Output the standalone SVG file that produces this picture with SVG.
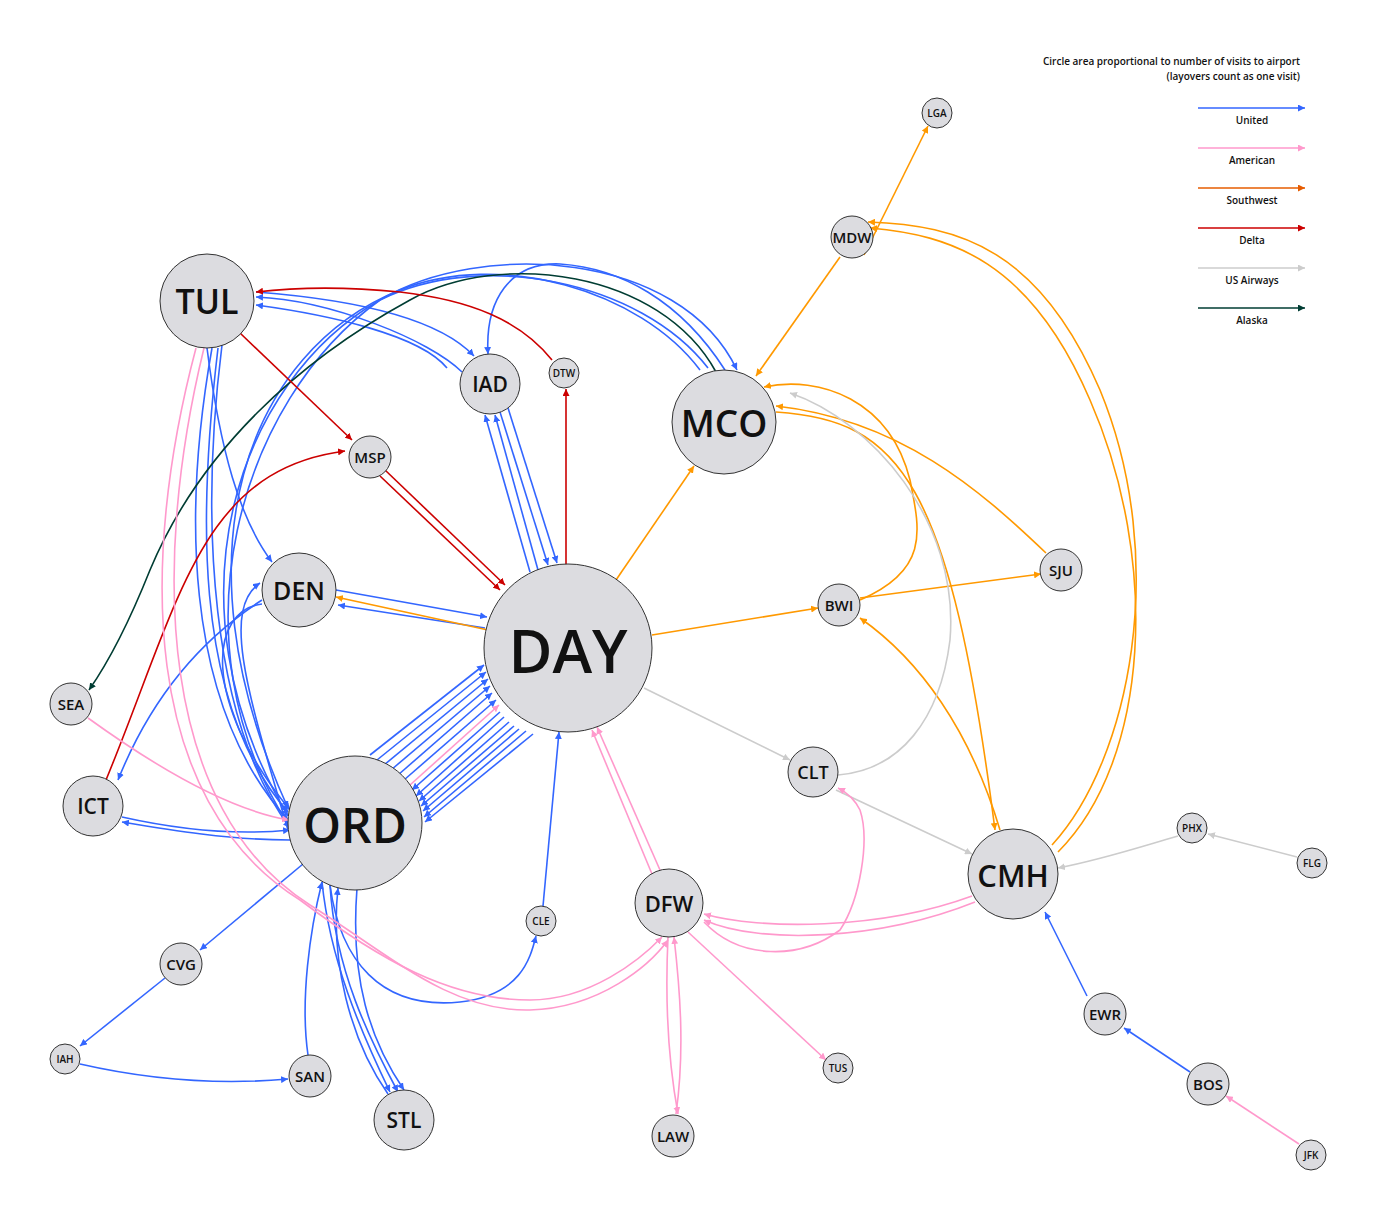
<svg xmlns="http://www.w3.org/2000/svg" width="1378" height="1221" viewBox="0 0 1378 1221">
<style>
.n{fill:#dcdce0;stroke:#333;stroke-width:1}
text{font-family:"Open Sans","Noto Sans",sans-serif;font-weight:600;fill:#111;text-anchor:middle;dominant-baseline:central}
.e{fill:none;stroke-width:1.6}
.u{stroke:#3366ff;marker-end:url(#mu)}
.a{stroke:#ff99cc;marker-end:url(#ma)}
.s{stroke:#ff9900;marker-end:url(#ms)}
.d{stroke:#cc0000;marker-end:url(#md)}
.g{stroke:#cccccc;marker-end:url(#mg)}
.k{stroke:#003d33;marker-end:url(#mk)}
.lg{font-size:10px;font-weight:600}
</style>
<defs>
<marker id="mu" viewBox="0 0 10 10" refX="10" refY="5" markerWidth="7" markerHeight="7" orient="auto" markerUnits="userSpaceOnUse"><path d="M0,0L10,5L0,10z" fill="#3366ff"/></marker>
<marker id="ma" viewBox="0 0 10 10" refX="10" refY="5" markerWidth="7" markerHeight="7" orient="auto" markerUnits="userSpaceOnUse"><path d="M0,0L10,5L0,10z" fill="#ff99cc"/></marker>
<marker id="ms" viewBox="0 0 10 10" refX="10" refY="5" markerWidth="7" markerHeight="7" orient="auto" markerUnits="userSpaceOnUse"><path d="M0,0L10,5L0,10z" fill="#ff9900"/></marker>
<marker id="ms2" viewBox="0 0 10 10" refX="10" refY="5" markerWidth="7" markerHeight="7" orient="auto" markerUnits="userSpaceOnUse"><path d="M0,0L10,5L0,10z" fill="#e65c00"/></marker>
<marker id="md" viewBox="0 0 10 10" refX="10" refY="5" markerWidth="7" markerHeight="7" orient="auto" markerUnits="userSpaceOnUse"><path d="M0,0L10,5L0,10z" fill="#cc0000"/></marker>
<marker id="mg" viewBox="0 0 10 10" refX="10" refY="5" markerWidth="7" markerHeight="7" orient="auto" markerUnits="userSpaceOnUse"><path d="M0,0L10,5L0,10z" fill="#cccccc"/></marker>
<marker id="mk" viewBox="0 0 10 10" refX="10" refY="5" markerWidth="7" markerHeight="7" orient="auto" markerUnits="userSpaceOnUse"><path d="M0,0L10,5L0,10z" fill="#003d33"/></marker>
</defs>
<rect width="1378" height="1221" fill="#fff"/>
<g id="legend">
<text x="1300" y="61" class="lg" style="text-anchor:end">Circle area proportional to number of visits to airport</text>
<text x="1300" y="76" class="lg" style="text-anchor:end">(layovers count as one visit)</text>
<path class="e u" d="M1198,108H1305"/><text x="1252" y="120" class="lg">United</text>
<path class="e a" d="M1198,148H1305"/><text x="1252" y="160" class="lg">American</text>
<path class="e" stroke="#e65c00" marker-end="url(#ms2)" d="M1198,188H1305"/><text x="1252" y="200" class="lg">Southwest</text>
<path class="e d" d="M1198,228H1305"/><text x="1252" y="240" class="lg">Delta</text>
<path class="e g" d="M1198,268H1305"/><text x="1252" y="280" class="lg">US Airways</text>
<path class="e k" d="M1198,308H1305"/><text x="1252" y="320" class="lg">Alaska</text>
</g>
<g id="connectors">
<!-- United -->
<path class="e u" d="M447,368C420,335 330,315 256,305"/>
<path class="e u" d="M462,372C430,340 330,300 256,297"/>
<path class="e u" d="M256,292C360,300 440,320 474,356"/>
<path class="e u" d="M207,348C220,450 240,520 272,562"/>
<path class="e u" d="M218,348C200,500 190,700 288,812"/>
<path class="e u" d="M212,348C185,500 180,700 288,820"/>
<path class="e u" d="M222,345C200,520 210,720 290,828"/>
<path class="e u" d="M336,590L487,617"/>
<path class="e u" d="M485,628L338,605"/>
<path class="e u" d="M288,830C250,700 220,610 260,583"/>
<path class="e u" d="M262,600C200,640 150,700 118,780"/>
<path class="e u" d="M262,604C210,610 200,700 290,810"/>
<path class="e u" d="M122,817C180,830 240,835 290,830"/>
<path class="e u" d="M290,840C230,840 170,830 122,822"/>
<!-- ORD-DAY bundle -->
<g>
<path class="e u" d="M370,755L484,665"/>
<path class="e u" d="M377,760L486,672"/>
<path class="e u" d="M384,765L488,679"/>
<path class="e u" d="M391,770L490,686"/>
<path class="e u" d="M398,775L492,693"/>
<path class="e u" d="M404,780L496,700"/>
<path class="e a" d="M410,785L499,705"/>
<path class="e u" d="M500,712L412,790"/>
<path class="e u" d="M504,717L416,796"/>
<path class="e u" d="M509,722L419,801"/>
<path class="e u" d="M514,726L421,806"/>
<path class="e u" d="M519,729L423,811"/>
<path class="e u" d="M526,731L424,817"/>
<path class="e u" d="M533,734L425,822"/>
</g>
<path class="e u" d="M303,864L200,950"/>
<path class="e u" d="M165,978L80,1046"/>
<path class="e u" d="M80,1064C150,1080 220,1085 288,1079"/>
<path class="e u" d="M308,1055C300,1000 310,930 322,882"/>
<path class="e u" d="M322,882C330,960 360,1030 390,1092"/>
<path class="e u" d="M330,885C335,970 370,1040 398,1092"/>
<path class="e u" d="M357,888C350,980 370,1040 404,1090"/>
<path class="e u" d="M388,1094C350,1040 330,960 338,888"/>
<path class="e u" d="M330,885C340,960 380,1010 460,1002C520,995 530,960 536,936"/>
<path class="e u" d="M543,906L559,732"/>
<path class="e u" d="M530,572L485,415"/>
<path class="e u" d="M538,570L495,415"/>
<path class="e u" d="M500,412L548,565"/>
<path class="e u" d="M508,408L557,563"/>
<path class="e u" d="M725,370C680,300 620,268 560,264C510,262 485,300 488,354"/>
<path class="e u" d="M700,370C640,290 500,250 400,290C250,350 170,550 288,808"/>
<path class="e u" d="M708,368C640,280 480,250 380,300C240,380 160,600 288,816"/>
<path class="e u" d="M288,824C170,640 240,400 380,300C480,240 680,250 737,370"/>
<path class="e u" d="M1087,996L1045,912"/>
<path class="e u" d="M1190,1072L1124,1028"/>
<!-- Alaska -->
<path class="e k" d="M716,372C660,270 500,250 410,300C300,360 200,450 150,570C130,620 110,660 89,690"/>
<!-- Delta -->
<path class="e d" d="M240,333L352,440"/>
<path class="e d" d="M552,360C520,320 470,300 400,292C340,286 290,288 256,292"/>
<path class="e d" d="M566,565L566,389"/>
<path class="e d" d="M385,470L505,585"/>
<path class="e d" d="M380,476L500,590"/>
<path class="e d" d="M106,780C180,600 200,470 345,451"/>
<!-- Southwest -->
<path class="e s" d="M616,580L694,466"/>
<path class="e s" d="M488,630L336,597"/>
<path class="e s" d="M652,635L818,608"/>
<path class="e s" d="M864,255L928,126"/>
<path class="e s" d="M840,257L756,376"/>
<path class="e s" d="M860,598L1041,574"/>
<path class="e s" d="M860,600C930,570 920,530 910,480C890,400 820,375 764,387"/>
<path class="e s" d="M1046,553C980,490 900,420 776,406"/>
<path class="e s" d="M776,412C900,420 950,480 995,830"/>
<path class="e s" d="M1052,845C1130,760 1170,560 1100,390C1040,250 960,225 868,222"/>
<path class="e s" d="M1058,852C1150,760 1160,560 1090,400C1030,260 950,235 870,228"/>
<path class="e s" d="M1000,830C970,730 920,660 860,618"/>
<!-- US Airways -->
<path class="e g" d="M644,688L790,760"/>
<path class="e g" d="M836,790L972,854"/>
<path class="e g" d="M838,775C900,770 940,720 950,640C960,520 870,420 790,393"/>
<path class="e g" d="M1297,857L1208,834"/>
<path class="e g" d="M1178,836C1130,850 1100,860 1058,868"/>
<!-- American -->
<path class="e a" d="M88,718C160,770 230,810 289,820"/>
<path class="e a" d="M196,348C140,560 140,800 300,900C380,960 450,1000 530,1000C590,1000 640,960 662,937"/>
<path class="e a" d="M204,348C150,570 160,810 310,905C390,955 450,1012 530,1010C600,1008 650,965 668,940"/>
<path class="e a" d="M660,870L597,727"/>
<path class="e a" d="M652,874L592,730"/>
<path class="e a" d="M972,896C880,930 760,930 704,914"/>
<path class="e a" d="M975,902C880,940 760,945 704,920"/>
<path class="e a" d="M704,922C740,960 800,960 840,930C860,900 870,840 860,810C855,800 848,793 838,788"/>
<path class="e a" d="M688,932L826,1060"/>
<path class="e a" d="M668,937C665,1000 668,1060 678,1114"/>
<path class="e a" d="M676,1114C685,1050 680,990 674,937"/>
<path class="e a" d="M1299,1144L1226,1096"/>
</g>
<g id="n-TUL"><circle class="n" cx="207" cy="301" r="47"/><text x="207" y="301" font-size="34">TUL</text></g>
<g id="n-IAD"><circle class="n" cx="490" cy="384" r="30"/><text x="490" y="384" font-size="21">IAD</text></g>
<g id="n-DTW"><circle class="n" cx="564" cy="373" r="15"/><text x="564" y="373" font-size="10">DTW</text></g>
<g id="n-MCO"><circle class="n" cx="724" cy="422" r="52"/><text x="724" y="422" font-size="37">MCO</text></g>
<g id="n-MSP"><circle class="n" cx="370" cy="457" r="21"/><text x="370" y="457" font-size="15">MSP</text></g>
<g id="n-LGA"><circle class="n" cx="937" cy="113" r="15"/><text x="937" y="113" font-size="10">LGA</text></g>
<g id="n-MDW"><circle class="n" cx="852" cy="237" r="21"/><text x="852" y="237" font-size="15">MDW</text></g>
<g id="n-DEN"><circle class="n" cx="299" cy="590" r="37"/><text x="299" y="590" font-size="25">DEN</text></g>
<g id="n-DAY"><circle class="n" cx="568" cy="648" r="84"/><text x="568" y="650" font-size="60">DAY</text></g>
<g id="n-BWI"><circle class="n" cx="839" cy="605" r="21"/><text x="839" y="605" font-size="15">BWI</text></g>
<g id="n-SJU"><circle class="n" cx="1061" cy="570" r="21"/><text x="1061" y="570" font-size="15">SJU</text></g>
<g id="n-SEA"><circle class="n" cx="71" cy="704" r="21"/><text x="71" y="704" font-size="15">SEA</text></g>
<g id="n-ICT"><circle class="n" cx="93" cy="806" r="30"/><text x="93" y="806" font-size="21">ICT</text></g>
<g id="n-ORD"><circle class="n" cx="355" cy="823" r="67"/><text x="355" y="824" font-size="48">ORD</text></g>
<g id="n-CLT"><circle class="n" cx="813" cy="772" r="25"/><text x="813" y="772" font-size="18">CLT</text></g>
<g id="n-CMH"><circle class="n" cx="1013" cy="874" r="45"/><text x="1013" y="875" font-size="31">CMH</text></g>
<g id="n-PHX"><circle class="n" cx="1192" cy="828" r="15"/><text x="1192" y="828" font-size="10">PHX</text></g>
<g id="n-FLG"><circle class="n" cx="1312" cy="863" r="15"/><text x="1312" y="863" font-size="10">FLG</text></g>
<g id="n-DFW"><circle class="n" cx="669" cy="903" r="34"/><text x="669" y="903" font-size="22">DFW</text></g>
<g id="n-CLE"><circle class="n" cx="541" cy="921" r="15"/><text x="541" y="921" font-size="10">CLE</text></g>
<g id="n-CVG"><circle class="n" cx="181" cy="964" r="21"/><text x="181" y="964" font-size="15">CVG</text></g>
<g id="n-IAH"><circle class="n" cx="65" cy="1059" r="15"/><text x="65" y="1059" font-size="10">IAH</text></g>
<g id="n-SAN"><circle class="n" cx="310" cy="1076" r="21"/><text x="310" y="1076" font-size="15">SAN</text></g>
<g id="n-STL"><circle class="n" cx="404" cy="1120" r="30"/><text x="404" y="1120" font-size="21">STL</text></g>
<g id="n-LAW"><circle class="n" cx="673" cy="1136" r="21"/><text x="673" y="1136" font-size="15">LAW</text></g>
<g id="n-TUS"><circle class="n" cx="838" cy="1068" r="15"/><text x="838" y="1068" font-size="10">TUS</text></g>
<g id="n-EWR"><circle class="n" cx="1105" cy="1014" r="21"/><text x="1105" y="1014" font-size="15">EWR</text></g>
<g id="n-BOS"><circle class="n" cx="1208" cy="1084" r="21"/><text x="1208" y="1084" font-size="15">BOS</text></g>
<g id="n-JFK"><circle class="n" cx="1311" cy="1155" r="15"/><text x="1311" y="1155" font-size="10">JFK</text></g>
</svg>
